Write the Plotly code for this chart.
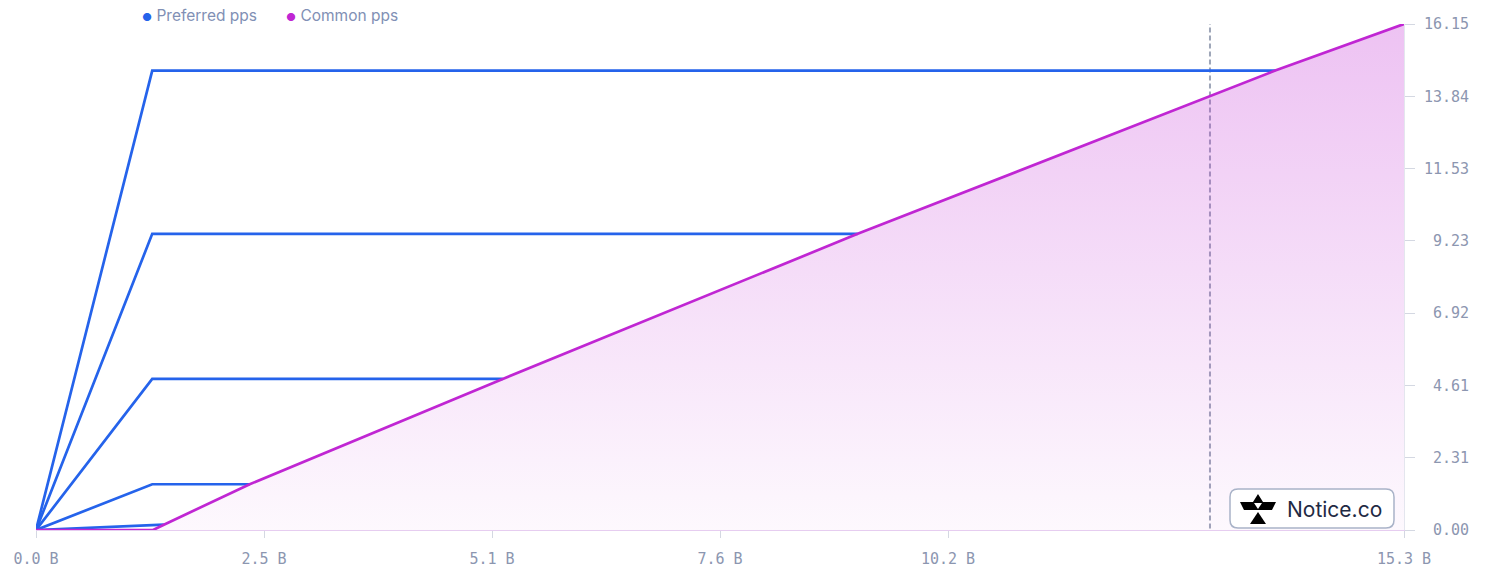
import plotly.graph_objects as go

# exit value in billions, price per share
pref_names = ["Pref A", "Pref B", "Pref C", "Pref D", "Pref E"]
pref_kink_x = 1.30
pref_values = [14.66, 9.45, 4.82, 1.46, 0.17]
pref_convert_x = [13.86, 9.19, 5.22, 2.39, 1.43]

common_x = [0, 1.31, 1.43, 2.39, 5.22, 9.19, 13.86, 15.3]
common_y = [0, 0, 0.17, 1.46, 4.82, 9.45, 14.66, 16.147]

marker_x = 13.13

x_max = 15.3
y_max = 16.147
x_ticks = [0, 2.55, 5.1, 7.65, 10.2, 15.3]
x_ticktext = ["0.0 B", "2.5 B", "5.1 B", "7.6 B", "10.2 B", "15.3 B"]
y_ticks = [y_max / 7 * i for i in range(8)]
y_ticktext = [f"{v:.2f}".rjust(5).replace(" ", "\u00a0") for v in y_ticks]

BLUE = "#2563eb"
PURPLE = "#c026d3"
MONO = "DejaVu Sans Mono"
TICK_COLOR = "#8c96b0"

# plot area in pixels (for placing the legend / logo)
L, R, T, B = 36, 1404, 24, 530


def px(x, y):
    return (x - L) / (R - L), (B - y) / (B - T)


def poly(points):
    pts = [px(x, y) for x, y in points]
    return "M " + " L ".join(f"{a:.5f},{b:.5f}" for a, b in pts) + " Z"


fig = go.Figure()

for name, v, cx in zip(pref_names, pref_values, pref_convert_x):
    fig.add_trace(go.Scatter(
        x=[0, pref_kink_x, cx],
        y=[0, v, v],
        mode="lines",
        line=dict(color=BLUE, width=2.7),
        name=name,
        showlegend=False,
    ))

fig.add_trace(go.Scatter(
    x=common_x,
    y=common_y,
    mode="lines",
    line=dict(color=PURPLE, width=2.7),
    fill="tozeroy",
    fillgradient=dict(
        type="vertical",
        start=0,
        stop=y_max,
        colorscale=[[0, "rgba(192,38,211,0.03)"], [1, "rgba(192,38,211,0.28)"]],
    ),
    name="Common pps",
    showlegend=False,
))

shapes = [
    dict(type="line", xref="x", yref="y", x0=marker_x, x1=marker_x, y0=0.05, y1=16.28,
         line=dict(color="#9ea6b8", width=2, dash="5px,3px"), layer="below"),
]

# logo box with rounded corners
bx0, bx1, by0, by1, rr = 1230, 1394, 489, 528, 8
c = lambda x, y: "%.5f,%.5f" % px(x, y)
box_path = (
    f"M {c(bx0 + rr, by0)} L {c(bx1 - rr, by0)} Q {c(bx1, by0)} {c(bx1, by0 + rr)} "
    f"L {c(bx1, by1 - rr)} Q {c(bx1, by1)} {c(bx1 - rr, by1)} "
    f"L {c(bx0 + rr, by1)} Q {c(bx0, by1)} {c(bx0, by1 - rr)} "
    f"L {c(bx0, by0 + rr)} Q {c(bx0, by0)} {c(bx0 + rr, by0)} Z"
)
shapes.append(dict(type="path", xref="paper", yref="paper", path=box_path,
                   fillcolor="white", line=dict(color="#a9b3c8", width=1.5), layer="above"))
# icon
shapes.append(dict(type="path", xref="paper", yref="paper",
                   path=poly([(1258, 494), (1263, 502), (1276, 502), (1272, 510),
                              (1244, 510), (1240, 502), (1253, 502)]),
                   fillcolor="black", line=dict(width=0), layer="above"))
shapes.append(dict(type="path", xref="paper", yref="paper",
                   path=poly([(1258, 512), (1266, 524), (1250, 524)]),
                   fillcolor="black", line=dict(width=0), layer="above"))
shapes.append(dict(type="path", xref="paper", yref="paper",
                   path=poly([(1254, 503), (1262, 503), (1258, 509)]),
                   fillcolor="white", line=dict(width=0), layer="above"))

annotations = []
for label, color, x0 in [("Preferred pps", BLUE, 140), ("Common pps", PURPLE, 284)]:
    ax, ay = px(x0, 15)
    annotations.append(dict(
        x=ax, y=ay, xref="paper", yref="paper", xanchor="left", yanchor="middle",
        showarrow=False,
        text=f"<span style='color:{color};font-size:11px'>●</span> {label}",
        font=dict(family="Inter", size=15.5, color="#8190b5"),
    ))
lx, ly = px(1285, 509)
annotations.append(dict(
    x=lx, y=ly, xref="paper", yref="paper", xanchor="left", yanchor="middle",
    showarrow=False, text="Notice.co",
    font=dict(family="Inter", size=21, color="#1f2a44"),
))

fig.update_layout(
    width=1488,
    height=572,
    margin=dict(l=L, r=1488 - R, t=T, b=572 - B),
    plot_bgcolor="white",
    paper_bgcolor="white",
    showlegend=False,
    shapes=shapes,
    annotations=annotations,
    hovermode=False,
)
fig.update_xaxes(
    range=[0, x_max],
    tickvals=x_ticks,
    ticktext=x_ticktext,
    showgrid=False,
    zeroline=False,
    showline=True,
    linecolor="#e6cdf0",
    linewidth=1,
    ticks="outside",
    ticklen=7,
    tickcolor="#d4d8e2",
    ticklabelstandoff=8,
    automargin=False,
    tickfont=dict(family=MONO, size=15, color=TICK_COLOR),
)
fig.update_yaxes(
    side="right",
    range=[0, y_max],
    tickvals=y_ticks,
    ticktext=y_ticktext,
    showgrid=False,
    zeroline=False,
    showline=True,
    linecolor="#e4e6ee",
    linewidth=1,
    ticks="outside",
    ticklen=10,
    tickcolor="#d4d8e2",
    ticklabelstandoff=6,
    automargin=False,
    tickfont=dict(family=MONO, size=15, color=TICK_COLOR),
)

fig.write_html("out.html", config={"displayModeBar": False},
               post_script="document.body.style.margin='0';")
